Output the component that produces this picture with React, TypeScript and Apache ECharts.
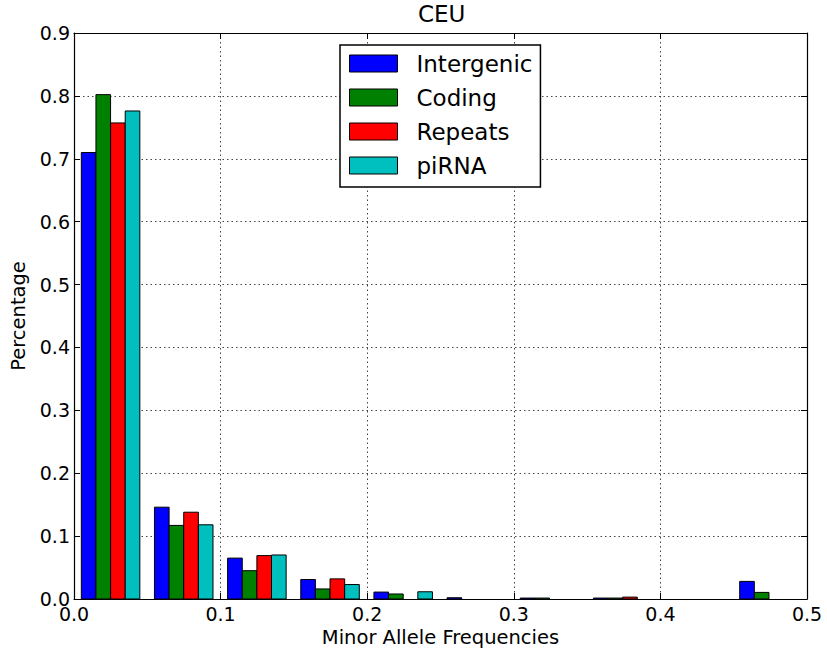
import React, { useEffect, useRef } from "react";
import * as echarts from "echarts";

const seriesNames = ["Intergenic", "Coding", "Repeats", "piRNA"];
const seriesColors = ["#0000ff", "#008000", "#ff0000", "#00bfbf"];
const binStarts = [0, 0.0499, 0.0998, 0.1497, 0.1996, 0.2495, 0.2994, 0.3493, 0.3992, 0.4491];
const binWidth = 0.0499;
const intergenic = [0.71, 0.146, 0.065, 0.031, 0.011, 0.002, 0.0015, 0.0015, 0, 0.028];
const coding = [0.802, 0.117, 0.045, 0.016, 0.008, 0, 0.0015, 0.0015, 0, 0.0105];
const repeats = [0.757, 0.138, 0.069, 0.032, 0, 0, 0, 0.003, 0, 0];
const pirna = [0.776, 0.118, 0.07, 0.023, 0.0115, 0, 0, 0, 0, 0];
const allValues = [intergenic, coding, repeats, pirna];
const xTicks = { min: 0, max: 0.5, interval: 0.1 };
const yTicks = { min: 0, max: 0.9, interval: 0.1 };

const FONT = "DejaVu Sans";

export default function App() {
  const ref = useRef<HTMLDivElement>(null);
  useEffect(() => {
    if (!ref.current) return;
    const chart = echarts.init(ref.current, undefined, { renderer: "svg" });
    const nSeries = seriesNames.length;
    const renderItem = (params: any, api: any) => {
      const si = params.seriesIndex;
      const start = api.value(0);
      const v = api.value(1);
      if (!(v > 0)) return null;
      const total = binWidth * 0.8;
      const w = total / nSeries;
      const x0 = start + binWidth * 0.1 + si * w;
      const p0 = api.coord([x0, v]);
      const p1 = api.coord([x0 + w, 0]);
      return {
        type: "rect",
        shape: { x: p0[0], y: p0[1], width: p1[0] - p0[0], height: p1[1] - p0[1] },
        style: { fill: seriesColors[si], stroke: "#000", lineWidth: 1 },
      };
    };
    const gridLine = { show: true, lineStyle: { color: "#444", width: 1, type: [1.5, 3] } };
    const option: any = {
      animation: false,
      backgroundColor: "#fff",
      textStyle: { fontFamily: FONT },
      title: {
        text: "CEU",
        left: 418,
        top: 2,
        padding: 0,
        textStyle: { fontFamily: FONT, fontSize: 23, fontWeight: "normal", color: "#000" },
      },
      legend: {
        orient: "vertical",
        left: 340,
        top: 45,
        padding: [7, 8, 10, 9],
        itemWidth: 48,
        itemHeight: 17,
        itemGap: 11,
        borderColor: "#000",
        borderWidth: 1.5,
        backgroundColor: "#fff",
        textStyle: {
          fontFamily: FONT,
          fontSize: 23,
          color: "#000",
          padding: [0, 0, 0, 14],
        },
        data: seriesNames.map((n, i) => ({
          name: n,
          icon: "rect",
          itemStyle: { color: seriesColors[i], borderColor: "#000", borderWidth: 1 },
        })),
      },
      grid: { left: 74, right: 20, top: 33, bottom: 54, containLabel: false },
      xAxis: [
        {
          type: "value",
          ...xTicks,
          name: "Minor Allele Frequencies",
          nameLocation: "middle",
          nameGap: 27,
          nameTextStyle: { fontFamily: FONT, fontSize: 19.5, color: "#000" },
          axisLine: { show: true, lineStyle: { color: "#000", width: 1.2 } },
          axisTick: { show: true, inside: true, length: 6, lineStyle: { color: "#000" } },
          axisLabel: {
            fontFamily: FONT,
            fontSize: 19,
            color: "#000",
            margin: 5,
            formatter: (v: number) => v.toFixed(1),
          },
          splitLine: gridLine,
        },
        {
          type: "value",
          ...xTicks,
          position: "top",
          axisLine: { show: true, onZero: false, lineStyle: { color: "#000", width: 1.2 } },
          axisTick: { show: true, inside: true, length: 6, lineStyle: { color: "#000" } },
          axisLabel: { show: false },
          splitLine: { show: false },
        },
      ],
      yAxis: [
        {
          type: "value",
          ...yTicks,
          name: "Percentage",
          nameLocation: "middle",
          nameGap: 42,
          nameTextStyle: { fontFamily: FONT, fontSize: 19.5, color: "#000" },
          axisLine: { show: true, lineStyle: { color: "#000", width: 1.2 } },
          axisTick: { show: true, inside: true, length: 6, lineStyle: { color: "#000" } },
          axisLabel: {
            fontFamily: FONT,
            fontSize: 19,
            color: "#000",
            margin: 4,
            formatter: (v: number) => v.toFixed(1),
          },
          splitLine: gridLine,
        },
        {
          type: "value",
          ...yTicks,
          position: "right",
          axisLine: { show: true, onZero: false, lineStyle: { color: "#000", width: 1.2 } },
          axisTick: { show: true, inside: true, length: 6, lineStyle: { color: "#000" } },
          axisLabel: { show: false },
          splitLine: { show: false },
        },
      ],
      series: seriesNames.map((n, i) => ({
        name: n,
        type: "custom",
        xAxisIndex: 0,
        yAxisIndex: 0,
        renderItem,
        itemStyle: { color: seriesColors[i], borderColor: "#000", borderWidth: 1 },
        encode: { x: 0, y: 1 },
        data: binStarts.map((s, k) => [s, allValues[i][k]]),
        z: 3,
      })),
    };
    chart.setOption(option);
    return () => chart.dispose();
  }, []);
  return (
    <div
      ref={ref}
      style={{ position: "fixed", left: 0, top: 0, width: 827, height: 653, background: "#fff" }}
    />
  );
}
